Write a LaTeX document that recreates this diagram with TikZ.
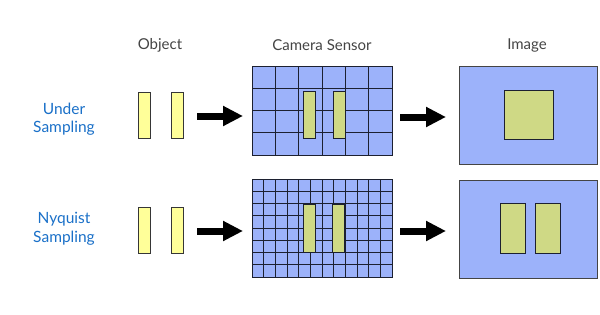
\documentclass[tikz,border=0pt]{standalone}
\usepackage{fontspec}
\setmainfont{Lato}
\usetikzlibrary{arrows.meta}
\definecolor{sensorblue}{HTML}{9CB2FA}
\definecolor{objyellow}{HTML}{FFFF99}
\definecolor{imgyellow}{HTML}{CFD985}
\definecolor{labelblue}{HTML}{1A70C8}
\definecolor{headgray}{HTML}{444444}
\definecolor{gridcol}{HTML}{1C2030}
\tikzset{
  box/.style={draw=#1, line width=1pt, inner sep=0pt, anchor=north west},
  objbar/.style={box=headgray!80!black, fill=objyellow},
  senbox/.style={box=gridcol, fill=sensorblue},
  imgbox/.style={box=headgray, fill=sensorblue},
  senbar/.style={box=gridcol, fill=imgyellow},
  imgbar/.style={box=gridcol, fill=imgyellow},
  gridline/.style={draw=gridcol, line width=1pt},
  bigarrow/.style={line width=7pt, -{Triangle[length=20pt,width=19pt]}},
  head/.style={text=headgray, font=\fontsize{15}{17}\selectfont},
  rowlabel/.style={text=labelblue, font=\fontsize{15.5}{18.5}\selectfont, align=center}
}
\begin{document}
\begin{tikzpicture}[x=1pt,y=-1pt]
\useasboundingbox (0,0) rectangle (600,314);
% headers
\node[head] (hobj) at (160,45) {Object};
\node[head] (hsen) at (322,45) {Camera Sensor};
\node[head] (himg) at (527,45) {Image};
% row labels
\node[rowlabel] (lunder) at (64,119) {Under\\Sampling};
\node[rowlabel] (lnyq) at (64,229) {Nyquist\\Sampling};
% objects top
\node[objbar, minimum width=12pt, minimum height=46pt] (o1a) at (138,92) {};
\node[objbar, minimum width=12pt, minimum height=46pt] (o1b) at (171,92) {};
% objects bottom
\node[objbar, minimum width=12pt, minimum height=46pt] (o2a) at (138,207) {};
\node[objbar, minimum width=12pt, minimum height=46pt] (o2b) at (171,207) {};
% sensor top
\node[senbox, minimum width=140pt, minimum height=89pt] (s1) at (252,66) {};
\foreach \i in {1,...,5} \draw[gridline] (252+\i*23.333,66) -- (252+\i*23.333,155);
\foreach \j in {1,...,3} \draw[gridline] (252,66+\j*22.25) -- (392,66+\j*22.25);
\node[senbar, minimum width=12.5pt, minimum height=46.5pt] (sb1a) at (302.7,91) {};
\node[senbar, minimum width=12.5pt, minimum height=46.5pt] (sb1b) at (332.8,91) {};
\node[senbox, fill=none, minimum width=140pt, minimum height=89pt] (s1f) at (252,66) {};
% sensor bottom
\node[senbox, minimum width=140pt, minimum height=98pt] (s2) at (252,179) {};
\foreach \i in {1,...,11} \draw[gridline] (252+\i*11.667,179) -- (252+\i*11.667,277);
\foreach \j in {1,...,7} \draw[gridline] (252,179+\j*12.25) -- (392,179+\j*12.25);
\node[senbar, minimum width=11.5pt, minimum height=47.5pt] (sb2a) at (303.3,204.3) {};
\node[senbar, minimum width=12pt, minimum height=47.5pt] (sb2b) at (332.3,204.3) {};
\node[senbox, fill=none, minimum width=140pt, minimum height=98pt] (s2f) at (252,179) {};
% images
\node[imgbox, minimum width=138pt, minimum height=98pt] (i1) at (459,66) {};
\node[imgbar, minimum width=49.5pt, minimum height=49pt] (i1s) at (503.5,90) {};
\node[imgbox, minimum width=138pt, minimum height=98pt] (i2) at (459,180) {};
\node[imgbar, minimum width=25pt, minimum height=49.5pt] (i2a) at (500,203.3) {};
\node[imgbar, minimum width=25pt, minimum height=49.5pt] (i2b) at (535.3,203.3) {};
% arrows
\coordinate (a1s) at (197,116);
\coordinate (a1e) at (243,116);
\coordinate (a2s) at (197,231);
\coordinate (a2e) at (243,231);
\coordinate (a3s) at (400,117);
\coordinate (a3e) at (446,117);
\coordinate (a4s) at (400,231);
\coordinate (a4e) at (446,231);
\draw[bigarrow] (a1s) -- (a1e);
\draw[bigarrow] (a2s) -- (a2e);
\draw[bigarrow] (a3s) -- (a3e);
\draw[bigarrow] (a4s) -- (a4e);
\end{tikzpicture}
\end{document}
